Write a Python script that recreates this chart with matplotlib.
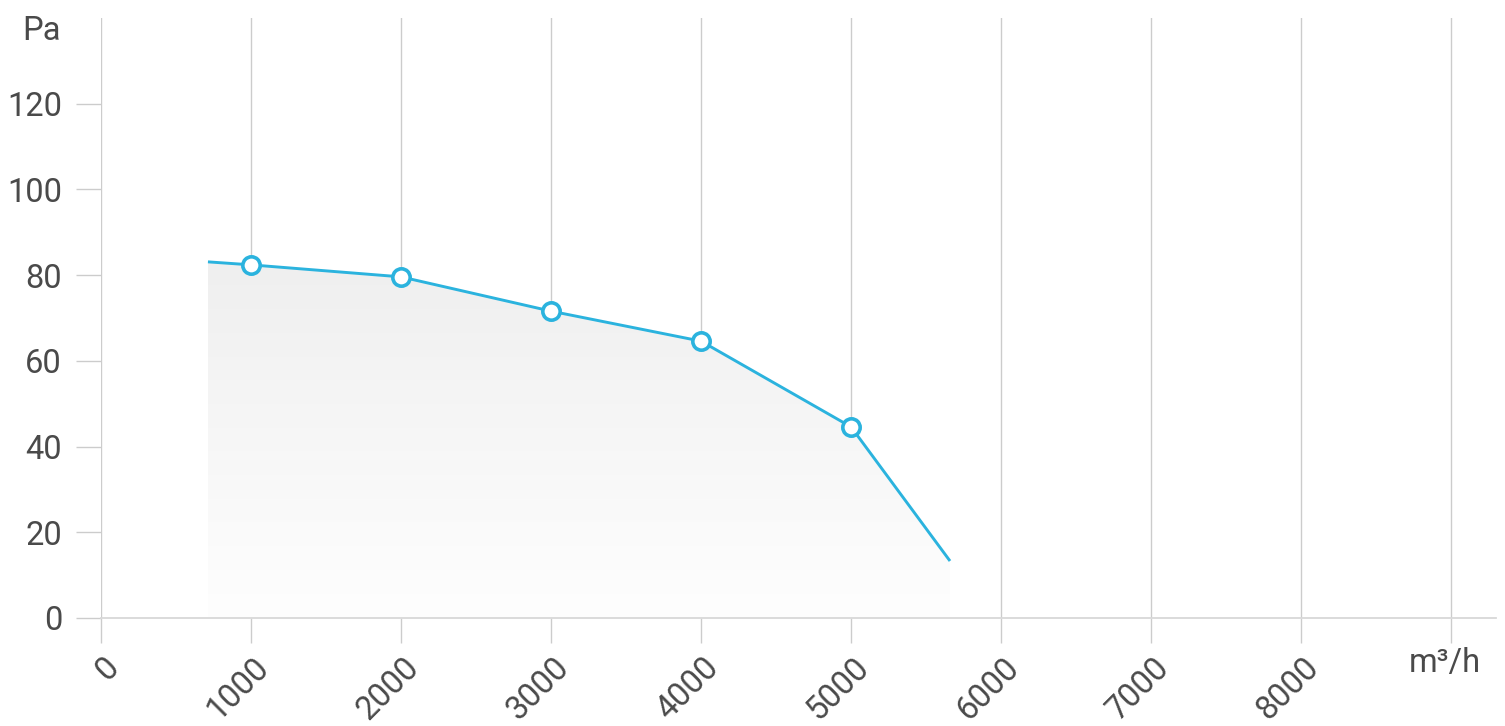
import numpy as np
import matplotlib
matplotlib.use("Agg")
import matplotlib.pyplot as plt
from matplotlib.patches import Polygon
from matplotlib.transforms import ScaledTranslation

plt.rcParams['font.family'] = ['Roboto', 'DejaVu Sans']

# data
curve_x = [713, 1000, 2000, 3000, 4000, 5000, 5660]
curve_y = [83.1, 82.4, 79.6, 71.6, 64.6, 44.6, 13.3]
marker_x = [1000, 2000, 3000, 4000, 5000]
marker_y = [82.4, 79.6, 71.6, 64.6, 44.6]
xticks = [0, 1000, 2000, 3000, 4000, 5000, 6000, 7000, 8000, 9000]
xticklabels = ['0', '1000', '2000', '3000', '4000', '5000', '6000', '7000', '8000', '']
yticks = [0, 20, 40, 60, 80, 100, 120]
ylabel = 'Pa'
xlabel = 'm³/h'

W, H = 1505, 726
fig = plt.figure(figsize=(W / 100, H / 100), dpi=100)
ax = fig.add_axes([101 / W, 108 / H, (1496 - 101) / W, 600 / H])
ax.set_xlim(0, 9300)
ax.set_ylim(0, 140)

line_col = '#2bb3de'
grid_col = '#cccccc'
text_col = '#4a4a4a'
fs = 23.5

# gradient fill under curve
poly_xy = list(zip(curve_x, curve_y)) + [(curve_x[-1], 0), (curve_x[0], 0)]
poly = Polygon(poly_xy, closed=True, facecolor='none', edgecolor='none')
ax.add_patch(poly)
grad = np.linspace(0, 1, 256).reshape(-1, 1)
cmap = matplotlib.colors.LinearSegmentedColormap.from_list('g', ['#fefefe', '#efefef'])
im = ax.imshow(grad, extent=[curve_x[0], curve_x[-1], 0, max(curve_y)], origin='lower',
               aspect='auto', cmap=cmap, zorder=1)
im.set_clip_path(poly)

ax.plot(curve_x, curve_y, color=line_col, lw=2.1, zorder=3, solid_capstyle='butt')
ax.plot(marker_x, marker_y, 'o', ms=12.5, mfc='white', mec=line_col, mew=2.6, zorder=4, lw=0)

# vertical gridlines
for xv in xticks:
    ax.axvline(xv, color=grid_col, lw=1, zorder=0)

for s in ['top', 'right', 'left']:
    ax.spines[s].set_visible(False)
ax.spines['bottom'].set_color('#d8d8d8')
ax.spines['bottom'].set_linewidth(1.3)

ax.set_xticks(xticks)
ax.set_xticklabels(xticklabels, rotation=45, ha='right', va='center', rotation_mode='anchor')
ax.set_yticks(yticks)
ax.set_yticklabels([str(v) for v in yticks])
ax.tick_params(axis='x', direction='out', length=18, width=1, color=grid_col,
               labelsize=fs, labelcolor=text_col, pad=14)
ax.tick_params(axis='y', direction='out', length=18, width=1, color=grid_col,
               labelsize=fs, labelcolor=text_col, pad=10)
off = ScaledTranslation(13 / 100, 0, fig.dpi_scale_trans)
for lab in ax.get_xticklabels():
    lab.set_transform(lab.get_transform() + off)

fig.text(61 / W, 1 - 31 / H, ylabel, ha='right', va='center', fontsize=fs, color=text_col)
fig.text(1445 / W, 1 - 663 / H, xlabel, ha='center', va='center', fontsize=fs, color=text_col)

fig.savefig('out.png', dpi=100)
